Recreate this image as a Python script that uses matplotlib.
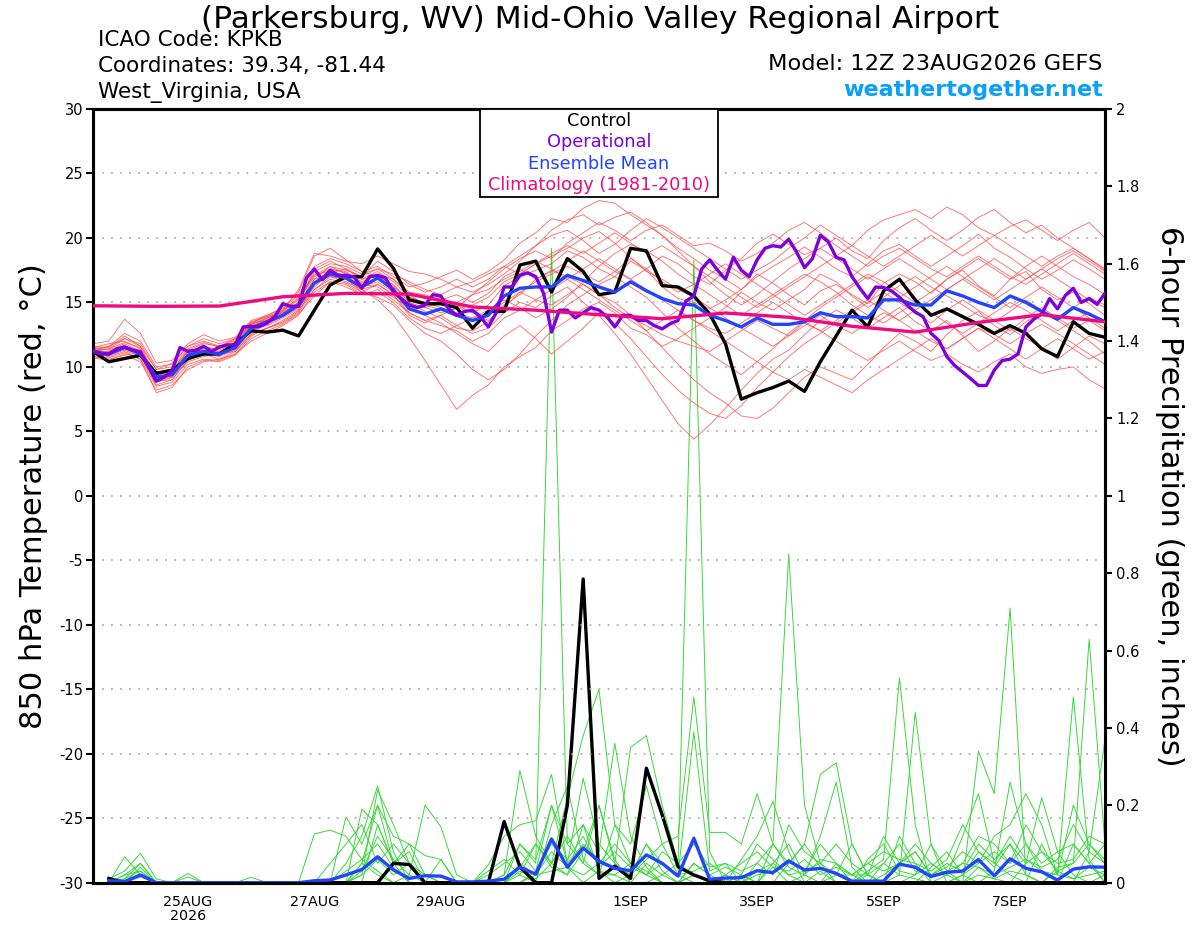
import numpy as np
import pandas as pd
import matplotlib
matplotlib.use("Agg")
import matplotlib.pyplot as plt
from matplotlib.patches import Rectangle

plt.rcParams["font.family"] = ["DejaVu Sans"]
plt.rcParams["axes.unicode_minus"] = False

# ── colours ────────────────────────────────────────────────────────────────────
RED    = "#ff4a4a"
GREEN  = "#3ad83a"
BLACK  = "#000000"
PURPLE = "#7f00dd"
BLUE   = "#2244ff"
PINK   = "#ee0a80"
SITE   = "#0aa0f5"
GRID   = "#b0b0b0"

# ── time axes (GEFS 12Z 23AUG2026) ────────────────────────────────────────────
RUN_START = "2026-08-23 12:00"
times6  = pd.date_range(RUN_START, periods=65, freq="6h")     # ensemble / control
times3  = pd.date_range(RUN_START, periods=129, freq="3h")    # operational
times24 = pd.date_range(RUN_START, periods=17, freq="24h")    # climatology
ptimes  = times6[1:]                                          # 6-hr precip totals

tick_dates  = ["2026-08-25", "2026-08-27", "2026-08-29", "2026-09-01",
               "2026-09-03", "2026-09-05", "2026-09-07"]
tick_labels = ["25AUG\n2026", "27AUG", "29AUG", "1SEP", "3SEP", "5SEP", "7SEP"]

# ── 850 hPa temperature (°C) ──────────────────────────────────────────────────
control_t = [11.2, 10.4, 10.65, 10.9, 9.5, 9.75, 10.65, 11.0, 11.0, 11.8, 12.8, 12.7, 12.85,
             12.4, 14.4, 16.35, 17.0, 17.0, 19.15, 17.65, 15.2, 14.9, 14.9, 14.6, 13.0, 14.3,
             14.3, 17.9, 18.2, 15.8, 18.4, 17.4, 15.6, 15.8, 19.2, 19.0, 16.3, 16.2, 15.5,
             14.1, 11.8, 7.5, 8.0, 8.4, 8.9, 8.1, 10.4, 12.4, 14.4, 13.1, 15.9, 16.8,
             15.2, 14.0, 14.5, 13.9, 13.3, 12.6, 13.2, 12.6, 11.4, 10.8, 13.5, 12.6, 12.3]

ens_mean_t = [11.2, 11.0, 11.5, 11.0, 9.2, 9.4, 10.9, 11.2, 11.0, 11.5, 13.0, 13.5, 14.0,
              14.8, 16.5, 17.2, 16.9, 16.2, 16.9, 16.0, 14.5, 14.1, 14.5, 14.0, 13.6, 14.0,
              15.5, 16.1, 16.2, 16.2, 17.1, 16.7, 16.2, 15.8, 16.6, 15.9, 15.3, 14.9, 14.8,
              14.0, 13.6, 13.1, 13.8, 13.3, 13.3, 13.5, 14.2, 13.9, 13.9, 13.8, 15.2, 15.2,
              14.8, 14.8, 15.9, 15.5, 15.0, 14.6, 15.5, 15.0, 14.3, 13.7, 14.6, 14.1, 13.5]

oper_t = [11.24, 11.0, 11.0, 11.4, 11.55, 11.3, 11.17, 10.0, 8.9, 9.2, 9.7, 11.5, 11.2, 11.3,
          11.6, 11.2, 11.55, 11.7, 11.7, 13.1, 13.15, 13.1, 13.4, 13.9, 14.9, 14.7, 14.7, 16.9,
          17.6, 16.75, 17.5, 17.1, 17.1, 17.0, 16.1, 17.0, 17.1, 16.9, 15.8, 15.3, 14.8, 14.6,
          14.8, 15.6, 15.5, 14.5, 14.0, 14.3, 14.4, 13.9, 13.1, 14.2, 16.2, 16.2, 17.1, 17.3,
          17.0, 15.7, 12.7, 14.4, 14.4, 13.8, 14.2, 14.6, 14.4, 13.9, 13.1, 14.0, 14.0, 13.6,
          13.6, 13.2, 12.95, 13.35, 13.6, 15.1, 15.5, 17.6, 18.3, 17.5, 16.8, 18.5, 17.5, 17.0,
          18.3, 19.2, 19.4, 19.3, 19.9, 18.9, 17.7, 18.4, 20.2, 19.7, 18.5, 18.3, 17.0, 16.1,
          15.3, 16.2, 16.15, 15.9, 15.4, 14.8, 14.25, 13.9, 12.6, 12.05, 10.8, 10.1, 9.6, 9.1,
          8.56, 8.56, 9.75, 10.5, 10.6, 11.0, 13.1, 13.7, 14.1, 15.3, 14.5, 15.55, 16.1, 15.0,
          15.3, 14.85, 15.7]

climo_t = [14.74, 14.7, 14.72, 15.44, 15.7, 15.65, 14.65, 14.4, 14.05,
           13.74, 14.18, 13.85, 13.15, 12.7, 13.45, 14.05, 13.5]

# ensemble members, 6-hourly
t_mem01 = [11.5, 11.3, 11.8, 11.2, 9.6, 9.8, 11.2, 11.6, 11.3, 11.8, 13.3, 13.8, 14.3,
           15.2, 17.0, 17.6, 17.3, 16.6, 17.2, 16.3, 15.0, 14.6, 15.0, 14.6, 14.2, 14.8,
           16.3, 17.0, 17.5, 18.0, 19.0, 18.5, 17.6, 17.0, 18.2, 17.5, 16.2, 15.3, 15.0,
           14.5, 15.2, 16.0, 17.2, 16.5, 15.6, 14.8, 15.9, 16.4, 15.6, 14.9, 16.5, 17.2,
           16.6, 15.7, 16.8, 17.5, 16.3, 15.5, 16.8, 17.4, 16.0, 15.2, 15.8, 14.9, 14.0]
t_mem02 = [11.0, 10.8, 11.2, 10.6, 8.5, 8.8, 10.2, 10.6, 10.5, 11.0, 12.4, 13.0, 13.4,
           14.2, 16.0, 17.0, 16.8, 16.0, 15.2, 14.0, 12.3, 10.5, 8.6, 6.7, 7.8, 8.6,
           10.0, 10.8, 11.5, 12.8, 13.6, 14.5, 15.0, 14.2, 13.0, 12.5, 11.6, 12.2, 13.0,
           13.8, 14.6, 15.8, 15.0, 14.4, 15.2, 16.0, 17.2, 16.6, 15.5, 14.6, 15.4, 16.3,
           17.0, 16.2, 15.5, 14.8, 14.0, 13.5, 14.3, 15.2, 14.4, 13.6, 14.6, 15.4, 14.8]
t_mem03 = [11.8, 12.0, 13.7, 12.6, 10.3, 10.5, 11.8, 12.5, 12.0, 12.3, 13.6, 14.0, 14.6,
           15.8, 18.6, 19.2, 18.3, 17.4, 17.8, 17.0, 16.2, 16.5, 17.0, 17.5, 16.8, 17.4,
           18.3, 19.6, 20.4, 21.5, 21.2, 22.3, 22.9, 22.7, 21.8, 21.0, 20.2, 19.2, 18.4,
           17.5, 16.8, 16.0, 17.0, 17.8, 18.5, 19.3, 18.5, 17.6, 17.0, 18.0, 19.0, 19.5,
           18.6, 17.8, 18.6, 19.4, 20.3, 19.2, 18.5, 17.6, 16.8, 17.5, 18.3, 17.6, 16.8]
t_mem04 = [10.8, 10.6, 10.9, 10.4, 8.2, 8.6, 9.8, 10.4, 10.6, 11.0, 12.0, 12.6, 13.2,
           14.0, 15.8, 16.6, 16.2, 15.6, 16.0, 15.2, 14.2, 13.6, 14.0, 13.2, 12.6, 13.0,
           14.2, 15.0, 14.6, 15.5, 16.2, 15.0, 14.0, 12.6, 11.0, 9.2, 7.4, 5.6, 4.4,
           5.5, 6.8, 8.2, 9.5, 10.6, 11.3, 12.5, 13.6, 14.4, 13.8, 13.0, 13.8, 14.6,
           13.5, 12.8, 13.6, 12.4, 11.2, 12.0, 13.0, 12.2, 11.5, 10.6, 11.5, 12.4, 11.8]
t_mem05 = [11.2, 11.4, 11.9, 11.5, 9.0, 9.2, 10.8, 11.0, 10.8, 11.3, 12.8, 13.3, 13.9,
           14.6, 16.2, 17.3, 17.6, 16.8, 17.0, 16.4, 15.0, 14.3, 13.8, 13.0, 12.8, 13.5,
           14.8, 15.6, 16.8, 17.5, 17.0, 16.4, 15.6, 15.0, 14.0, 12.8, 11.5, 10.2, 9.0,
           8.0, 7.2, 6.2, 6.0, 6.8, 8.0, 9.2, 10.0, 9.5, 9.0, 10.2, 11.5, 12.6,
           12.0, 11.2, 12.5, 13.6, 14.3, 13.2, 12.5, 13.5, 14.2, 13.6, 12.8, 12.0, 11.0]
t_mem06 = [11.4, 11.6, 12.2, 11.8, 9.8, 10.0, 11.4, 11.9, 11.5, 12.0, 13.4, 13.6, 14.2,
           15.0, 17.4, 18.0, 17.8, 17.2, 17.6, 16.8, 15.8, 15.6, 15.2, 15.6, 15.0, 15.7,
           17.0, 17.6, 16.8, 17.4, 18.2, 19.0, 18.2, 17.4, 16.8, 17.6, 18.6, 18.0, 17.0,
           16.4, 17.5, 18.4, 19.6, 20.3, 19.5, 18.7, 19.2, 20.0, 19.0, 18.4, 19.8, 20.8,
           21.5, 20.6, 19.8, 20.6, 21.6, 22.2, 21.2, 20.4, 21.0, 20.0, 19.2, 18.4, 17.5]
t_mem07 = [11.0, 11.2, 11.6, 11.0, 9.4, 9.6, 11.0, 11.4, 11.2, 11.6, 13.0, 13.4, 14.0,
           14.8, 16.8, 17.8, 17.5, 17.0, 18.2, 17.4, 16.4, 15.8, 16.2, 16.8, 16.2, 16.8,
           17.8, 18.6, 19.4, 20.2, 20.6, 19.8, 18.8, 19.5, 20.6, 21.5, 20.8, 20.0, 19.2,
           18.4, 17.6, 16.8, 17.5, 18.2, 19.2, 20.0, 21.0, 20.2, 19.4, 20.6, 21.4, 21.8,
           22.2, 21.5, 22.4, 21.8, 20.8, 20.2, 20.9, 21.4, 20.6, 19.8, 20.6, 21.2, 20.0]
t_mem08 = [10.7, 10.5, 11.0, 10.8, 8.8, 9.2, 10.4, 10.8, 11.0, 11.2, 12.5, 13.0, 13.6,
           14.4, 16.0, 16.8, 16.5, 15.8, 16.4, 15.6, 14.2, 13.6, 13.2, 12.8, 12.0, 12.6,
           13.8, 14.4, 15.2, 14.8, 15.6, 16.4, 15.6, 14.6, 13.8, 13.2, 12.5, 12.0, 11.6,
           11.2, 12.0, 12.8, 13.6, 13.0, 12.4, 13.2, 14.0, 13.2, 12.6, 13.4, 14.2, 13.6,
           12.8, 12.0, 11.4, 12.2, 13.0, 12.5, 11.8, 12.6, 13.3, 12.6, 11.8, 11.0, 10.2]
t_mem09 = [11.6, 11.5, 12.4, 11.6, 9.2, 9.5, 11.0, 11.2, 10.9, 11.4, 12.8, 13.5, 14.0,
           14.9, 16.6, 17.5, 17.0, 16.2, 16.6, 15.8, 14.8, 14.6, 14.2, 14.5, 14.8, 15.4,
           16.6, 17.2, 18.0, 18.6, 19.2, 20.0, 20.5, 19.6, 18.5, 17.4, 16.8, 16.0, 15.4,
           14.6, 13.8, 13.0, 12.3, 11.6, 12.4, 13.5, 12.8, 12.0, 11.2, 10.5, 11.3, 12.0,
           11.2, 10.5, 11.0, 10.2, 9.6, 10.4, 11.0, 10.0, 9.5, 9.8, 10.0, 9.0, 8.3]
t_mem10 = [11.3, 11.0, 11.4, 11.2, 9.6, 9.6, 11.2, 11.3, 11.2, 11.8, 13.2, 13.6, 14.3,
           15.4, 17.2, 17.4, 17.1, 16.8, 17.4, 16.6, 15.4, 15.0, 14.6, 14.2, 13.8, 14.4,
           15.2, 14.6, 13.8, 14.5, 15.4, 16.6, 17.8, 18.8, 19.5, 19.0, 18.2, 17.2, 16.4,
           15.6, 14.8, 14.0, 14.8, 15.6, 14.8, 14.0, 14.8, 15.6, 16.4, 17.2, 16.6, 15.8,
           15.0, 15.8, 16.8, 17.6, 18.4, 17.6, 16.8, 17.8, 18.6, 17.8, 17.0, 16.4, 15.6]
t_mem11 = [10.9, 11.2, 11.7, 10.9, 8.6, 9.0, 10.6, 11.0, 10.6, 11.2, 12.6, 13.0, 13.5,
           14.3, 16.4, 17.6, 17.4, 16.4, 16.2, 15.4, 14.6, 14.0, 13.4, 12.6, 11.8, 11.2,
           12.4, 13.2, 12.2, 11.0, 12.0, 13.0, 14.2, 13.4, 12.2, 10.8, 9.4, 8.2, 7.2,
           6.4, 6.0, 7.0, 8.4, 9.6, 10.8, 11.8, 12.6, 13.4, 14.2, 15.0, 15.8, 15.0,
           14.2, 13.4, 14.4, 15.2, 14.4, 13.6, 12.8, 13.8, 14.6, 13.8, 13.0, 13.6, 12.8]
t_mem12 = [11.1, 10.9, 11.3, 10.8, 9.0, 9.3, 10.6, 11.1, 11.0, 11.6, 13.1, 13.8, 14.1,
           15.0, 16.8, 17.0, 16.6, 16.0, 16.4, 15.6, 14.0, 13.4, 14.0, 14.6, 15.6, 16.6,
           17.6, 18.4, 19.0, 18.4, 19.6, 20.4, 21.2, 20.6, 19.8, 20.6, 21.0, 20.2, 19.4,
           19.6, 19.0, 18.2, 18.8, 19.6, 20.6, 21.2, 20.4, 19.4, 18.6, 17.8, 18.6, 19.2,
           18.4, 17.6, 17.0, 17.8, 18.6, 17.8, 17.0, 16.4, 17.2, 18.0, 18.8, 18.0, 17.2]
t_mem13 = [11.5, 11.8, 12.0, 11.4, 9.4, 9.2, 10.8, 11.5, 11.4, 11.9, 13.4, 14.0, 14.5,
           15.6, 17.8, 18.4, 18.0, 17.4, 17.0, 16.2, 15.4, 15.0, 15.4, 14.8, 14.2, 13.6,
           14.6, 15.8, 16.6, 17.2, 17.8, 17.2, 16.6, 17.4, 18.4, 17.6, 16.6, 15.8, 16.4,
           17.2, 18.0, 17.2, 16.4, 15.6, 16.4, 17.2, 16.6, 15.8, 14.8, 14.0, 13.4, 14.2,
           15.0, 14.2, 13.4, 12.6, 13.4, 14.2, 15.0, 14.4, 13.6, 12.8, 13.6, 14.2, 13.4]
t_mem14 = [10.8, 10.7, 11.1, 10.6, 8.0, 8.4, 10.0, 10.5, 10.4, 10.9, 12.2, 12.8, 13.3,
           14.1, 15.5, 16.6, 16.4, 15.6, 15.8, 15.0, 13.8, 13.0, 12.6, 13.2, 13.8, 14.2,
           15.0, 15.8, 15.2, 16.0, 16.8, 16.0, 15.2, 14.4, 13.6, 12.8, 13.6, 14.4, 13.6,
           12.8, 12.0, 11.2, 10.4, 9.6, 9.0, 9.8, 9.2, 8.6, 8.0, 9.0, 9.8, 10.6,
           11.4, 12.2, 11.4, 12.2, 13.0, 12.2, 11.4, 10.6, 11.4, 12.2, 11.4, 10.6, 11.2]
t_mem15 = [11.2, 11.6, 12.6, 12.0, 10.0, 10.2, 11.6, 12.2, 11.8, 12.2, 13.5, 13.9, 14.4,
           16.0, 18.8, 18.6, 18.2, 18.0, 18.6, 18.0, 17.4, 17.2, 16.8, 16.2, 16.6, 17.2,
           17.8, 17.2, 18.0, 18.8, 19.4, 18.8, 19.6, 20.4, 19.6, 18.8, 19.4, 18.6, 17.8,
           17.0, 16.2, 15.4, 14.6, 15.4, 16.2, 17.0, 17.8, 18.6, 19.4, 18.6, 17.8, 18.6,
           19.4, 20.2, 19.4, 18.6, 19.4, 20.2, 19.4, 18.6, 17.8, 18.6, 19.2, 18.4, 17.6]
t_mem16 = [11.0, 10.9, 11.6, 11.3, 9.3, 9.7, 11.3, 11.8, 11.6, 12.1, 13.3, 13.7, 14.4,
           15.3, 17.1, 17.8, 17.2, 16.5, 17.2, 16.8, 15.6, 14.8, 14.4, 15.0, 15.6, 16.0,
           16.8, 17.4, 18.2, 17.6, 16.8, 17.6, 18.4, 17.6, 16.8, 16.0, 15.2, 14.4, 13.6,
           13.0, 12.6, 13.4, 14.2, 15.0, 14.2, 13.4, 12.8, 13.6, 14.4, 15.2, 14.4, 13.6,
           14.4, 15.2, 16.0, 16.8, 16.0, 15.2, 16.0, 16.8, 17.6, 16.8, 16.0, 15.2, 14.6]
t_mem17 = [11.4, 11.1, 11.5, 11.0, 8.9, 9.0, 10.5, 11.0, 11.1, 11.7, 13.0, 13.2, 13.8,
           14.5, 16.4, 17.2, 16.8, 15.8, 15.4, 14.8, 13.6, 12.6, 12.0, 11.0, 9.8, 9.0,
           9.8, 11.0, 12.4, 13.6, 14.8, 15.6, 16.4, 17.0, 16.2, 15.4, 14.2, 13.0, 12.0,
           11.0, 10.2, 9.4, 10.4, 11.4, 12.6, 13.6, 14.6, 15.4, 16.2, 17.0, 16.2, 15.4,
           16.2, 17.0, 17.8, 17.0, 16.2, 15.4, 14.6, 15.4, 16.2, 15.4, 14.6, 13.8, 13.0]
t_mem18 = [11.3, 11.4, 12.2, 11.6, 9.8, 10.3, 11.6, 12.0, 11.6, 12.2, 13.4, 13.9, 14.2,
           15.0, 17.6, 18.2, 17.6, 17.0, 17.6, 17.2, 16.6, 16.0, 15.6, 16.2, 15.8, 16.4,
           17.2, 18.2, 19.4, 20.6, 21.4, 21.8, 21.0, 21.6, 22.0, 21.2, 20.2, 19.0, 17.8,
           16.6, 15.6, 14.8, 15.6, 16.6, 17.6, 18.4, 19.2, 18.4, 17.6, 16.8, 17.6, 18.4,
           17.6, 16.8, 16.0, 16.8, 17.6, 18.4, 17.6, 16.8, 17.6, 18.4, 19.0, 18.2, 17.4]

# ── 6-hour precipitation (inches), valid 18Z 23AUG onwards ────────────────────
control_p = [0.011, 0, 0, 0, 0, 0, 0, 0, 0, 0, 0, 0,
             0, 0, 0, 0, 0, 0, 0.05, 0.047, 0, 0, 0, 0, 0,
             0.158, 0.041, 0, 0, 0.2, 0.785, 0.011, 0.043, 0.011, 0.296, 0.175, 0.041, 0.02,
             0.005, 0, 0, 0, 0, 0, 0, 0, 0, 0, 0, 0, 0,
             0, 0, 0, 0, 0, 0, 0, 0, 0, 0, 0, 0, 0]

ens_mean_p = [0.005, 0.003, 0.02, 0, 0, 0, 0, 0, 0, 0, 0, 0,
              0, 0.005, 0.007, 0.02, 0.034, 0.067, 0.033, 0.011, 0.018, 0.017, 0.002, 0.002, 0.004,
              0.009, 0.04, 0.022, 0.113, 0.04, 0.09, 0.055, 0.037, 0.031, 0.072, 0.05, 0.017, 0.115,
              0.009, 0.012, 0.013, 0.031, 0.026, 0.056, 0.033, 0.037, 0.024, 0.004, 0.004, 0.004, 0.048,
              0.04, 0.016, 0.027, 0.03, 0.06, 0.018, 0.062, 0.037, 0.028, 0.007, 0.035, 0.041, 0.04]

p_mem01 = [0, 0.067, 0.02, 0, 0, 0, 0, 0, 0, 0, 0, 0,
           0, 0, 0, 0.05, 0.12, 0.25, 0.08, 0, 0, 0, 0, 0, 0,
           0, 0.1, 0.05, 1.64, 0.1, 0.05, 0.2, 0.06, 0, 0.05, 0.02, 0, 0.05,
           0.02, 0, 0, 0.03, 0.05, 0.1, 0.02, 0, 0.05, 0, 0, 0, 0.12,
           0.05, 0, 0, 0.02, 0.08, 0.04, 0.1, 0.02, 0, 0, 0.1, 0.05, 0]
p_mem02 = [0.01, 0.03, 0.076, 0.01, 0, 0.024, 0, 0, 0, 0, 0, 0,
           0, 0, 0, 0, 0.02, 0.24, 0.15, 0.05, 0, 0, 0, 0, 0,
           0.02, 0.29, 0.12, 0.05, 0.22, 0.38, 0.5, 0.15, 0.05, 0.02, 0, 0, 0.02,
           0, 0, 0.06, 0.12, 0.21, 0.08, 0, 0, 0.02, 0.1, 0.02, 0, 0,
           0, 0.04, 0.08, 0.02, 0, 0.03, 0.26, 0.1, 0.03, 0, 0, 0.08, 0.37]
p_mem03 = [0, 0.02, 0.05, 0, 0, 0.015, 0, 0, 0, 0.014, 0, 0,
           0, 0.126, 0.136, 0.12, 0.06, 0.03, 0, 0.02, 0.2, 0.145, 0.02, 0, 0,
           0, 0, 0.03, 0.2, 0.1, 0.15, 0.08, 0.36, 0.12, 0.04, 0, 0, 0,
           0, 0.02, 0, 0, 0.1, 0.85, 0.2, 0.05, 0, 0, 0.03, 0.06, 0.53,
           0.15, 0, 0, 0, 0.04, 0.01, 0, 0.05, 0.22, 0.08, 0.02, 0, 0.02]
p_mem04 = [0, 0, 0.04, 0, 0, 0, 0, 0, 0, 0, 0, 0,
           0, 0, 0, 0.17, 0.1, 0.2, 0.12, 0.1, 0.07, 0.06, 0, 0, 0.046,
           0.12, 0.15, 0.16, 0.28, 0.05, 0.27, 0.1, 0.05, 0.35, 0.38, 0.2, 0.05, 1.61,
           0.08, 0, 0.02, 0, 0, 0.05, 0.1, 0.28, 0.31, 0.1, 0.02, 0, 0,
           0.02, 0.1, 0.03, 0, 0.34, 0.23, 0.71, 0.02, 0, 0.04, 0.05, 0.63, 0.1]
p_mem05 = [0, 0.01, 0.03, 0, 0, 0, 0, 0, 0, 0, 0, 0,
           0, 0, 0, 0, 0.19, 0.15, 0.05, 0.08, 0, 0, 0, 0, 0,
           0, 0.02, 0, 0.15, 0.25, 0.06, 0.02, 0.15, 0.1, 0.25, 0.1, 0.12, 0.48,
           0.13, 0.13, 0.1, 0.23, 0.1, 0.04, 0.02, 0.12, 0.26, 0.04, 0, 0.05, 0.02,
           0.44, 0.1, 0, 0.02, 0.05, 0.12, 0.15, 0.23, 0.15, 0.02, 0.48, 0.06, 0]
p_mem06 = [0, 0, 0.015, 0, 0, 0, 0, 0, 0, 0, 0, 0,
           0, 0, 0, 0, 0.05, 0.2, 0.05, 0.1, 0.02, 0, 0, 0, 0.03,
           0.06, 0.02, 0.1, 0.05, 0.02, 0.15, 0.03, 0, 0.02, 0.1, 0.05, 0.02, 0.39,
           0.03, 0.05, 0, 0.05, 0.02, 0.15, 0.08, 0.05, 0.02, 0, 0.06, 0.1, 0.03,
           0.02, 0.05, 0.02, 0.12, 0.23, 0.05, 0.02, 0, 0.1, 0.02, 0.2, 0.1, 0.05]
p_mem07 = [0, 0, 0, 0, 0, 0, 0, 0, 0, 0, 0, 0,
           0, 0, 0, 0.03, 0.06, 0.1, 0.04, 0, 0, 0, 0, 0, 0,
           0, 0.05, 0.02, 0.08, 0.04, 0, 0.03, 0.02, 0.05, 0.03, 0, 0, 0.02,
           0, 0, 0.02, 0, 0.05, 0.02, 0, 0.03, 0, 0, 0.02, 0, 0.02,
           0.01, 0, 0.02, 0, 0.02, 0.01, 0.03, 0.02, 0, 0.03, 0.01, 0.02, 0.03]
p_mem08 = [0, 0, 0.02, 0, 0, 0, 0, 0, 0, 0, 0, 0,
           0, 0, 0, 0, 0.02, 0.06, 0.02, 0.05, 0, 0, 0, 0, 0,
           0.02, 0.1, 0.06, 0.2, 0.05, 0.1, 0.06, 0.04, 0.02, 0.06, 0.1, 0.02, 0.03,
           0.05, 0.02, 0, 0.02, 0.03, 0.06, 0.03, 0.1, 0.05, 0.02, 0.05, 0.03, 0.05,
           0.08, 0.02, 0.05, 0.03, 0.1, 0.06, 0.1, 0.05, 0.08, 0.03, 0.05, 0.1, 0.06]
p_mem09 = [0, 0, 0, 0, 0, 0, 0, 0, 0, 0, 0, 0,
           0, 0, 0, 0, 0, 0.15, 0.05, 0, 0, 0.06, 0, 0, 0,
           0, 0.03, 0.01, 0.05, 0.12, 0.05, 0.02, 0.02, 0, 0, 0.02, 0.05, 0.1,
           0.04, 0.05, 0.03, 0.05, 0.1, 0.05, 0.1, 0.04, 0.02, 0.02, 0, 0.02, 0.05,
           0.1, 0.05, 0.02, 0.05, 0.12, 0.1, 0.05, 0.1, 0.05, 0.08, 0.1, 0.05, 0.1]
p_mem10 = [0, 0.02, 0.03, 0, 0, 0, 0, 0, 0, 0, 0, 0,
           0, 0, 0, 0, 0.05, 0.02, 0, 0, 0, 0, 0, 0, 0,
           0, 0, 0.02, 0.03, 0.04, 0.02, 0.05, 0.1, 0.05, 0.02, 0.05, 0.02, 0,
           0, 0, 0, 0, 0.04, 0, 0.02, 0.06, 0.05, 0.02, 0.02, 0.05, 0.1,
           0.03, 0.02, 0.03, 0.05, 0.04, 0.02, 0.04, 0.06, 0.03, 0.02, 0.01, 0.04, 0.02]
p_mem11 = [0, 0, 0.02, 0, 0, 0, 0, 0, 0, 0, 0, 0,
           0, 0, 0.05, 0.1, 0.15, 0.05, 0.1, 0.05, 0.02, 0, 0, 0, 0.02,
           0.05, 0.08, 0.03, 0.1, 0.06, 0.12, 0.04, 0.08, 0.04, 0.02, 0.08, 0.05, 0.02,
           0, 0.02, 0.05, 0.08, 0.04, 0.03, 0.06, 0.02, 0.04, 0.02, 0.05, 0.08, 0.06,
           0.05, 0.03, 0.06, 0.15, 0.08, 0.05, 0.12, 0.06, 0.04, 0.06, 0.15, 0.08, 0.05]
p_mem12 = [0, 0.01, 0.05, 0, 0, 0, 0, 0, 0, 0, 0, 0,
           0, 0, 0, 0, 0.03, 0.12, 0.06, 0.02, 0, 0, 0, 0, 0,
           0, 0.04, 0.1, 0.04, 0.02, 0.08, 0.2, 0.05, 0.02, 0.1, 0.03, 0, 0.05,
           0.02, 0.04, 0.02, 0.1, 0.06, 0.02, 0.03, 0.05, 0.1, 0.05, 0.02, 0.12, 0.05,
           0.08, 0.02, 0.04, 0.08, 0.05, 0.08, 0.05, 0.15, 0.08, 0.05, 0.06, 0.12, 0.1]

temp_members = [t_mem01, t_mem02, t_mem03, t_mem04, t_mem05, t_mem06, t_mem07, t_mem08, t_mem09,
                t_mem10, t_mem11, t_mem12, t_mem13, t_mem14, t_mem15, t_mem16, t_mem17, t_mem18]
precip_members = [p_mem01, p_mem02, p_mem03, p_mem04, p_mem05, p_mem06,
                  p_mem07, p_mem08, p_mem09, p_mem10, p_mem11, p_mem12]

# ── figure ────────────────────────────────────────────────────────────────────
fig = plt.figure(figsize=(12, 9.27), dpi=100, facecolor="white")
ax = fig.add_axes([0.0775, 0.0478, 0.8433, 0.8346])
axp = ax.twinx()
# temperature axis drawn above the precip axis
ax.set_zorder(axp.get_zorder() + 1)
ax.patch.set_visible(False)

for p in precip_members:
    axp.plot(ptimes, p, color=GREEN, lw=0.7, zorder=1)
axp.plot(ptimes, control_p, color=BLACK, lw=2.4, zorder=3)
axp.plot(ptimes, ens_mean_p, color=BLUE, lw=2.4, zorder=4)

for t in temp_members:
    ax.plot(times6, t, color=RED, lw=0.6, alpha=0.85, zorder=1)
ax.plot(times6, control_t, color=BLACK, lw=2.4, zorder=3)
ax.plot(times6, ens_mean_t, color=BLUE, lw=2.4, zorder=4)
ax.plot(times3, oper_t, color=PURPLE, lw=2.4, zorder=5)
ax.plot(times24, climo_t, color=PINK, lw=2.4, zorder=6)

# axes ranges / ticks
ax.set_xlim(times6[0], times6[-1])
ax.set_ylim(-30, 30)
ax.set_yticks(np.arange(-30, 31, 5))
axp.set_ylim(0, 2)
axp.set_yticks(np.arange(0, 2.01, 0.2))
axp.set_yticklabels([f"{v:g}" for v in np.round(np.arange(0, 2.01, 0.2), 1)])

ax.set_xticks(pd.to_datetime(tick_dates))
ax.set_xticklabels(tick_labels, fontsize=10.3, linespacing=1.0)
ax.tick_params(axis="x", length=0, pad=9)
ax.tick_params(axis="y", direction="out", length=5, width=1.5, labelsize=10.5, pad=2)
axp.tick_params(axis="y", direction="out", length=5, width=1.5, labelsize=10.5, pad=3)

for gy in range(-25, 30, 5):
    ax.axhline(gy, color=GRID, lw=1.3, ls=(0, (1, 4)), zorder=0)

for a in (ax, axp):
    for s in a.spines.values():
        s.set_linewidth(2.2)

ax.set_ylabel("850 hPa Temperature (red, °C)", fontsize=22, labelpad=8)
axp.set_ylabel("6-hour Precipitation (green, inches)", fontsize=22,
               rotation=-90, labelpad=32)

# legend box
ax.add_patch(Rectangle((0.382, 0.886), 0.236, 0.114, transform=ax.transAxes,
                       facecolor="white", edgecolor="black", lw=1.3, zorder=10))
legend_items = [("Control", BLACK), ("Operational", PURPLE),
                ("Ensemble Mean", BLUE), ("Climatology (1981-2010)", PINK)]
for k, (txt, col) in enumerate(legend_items):
    ax.text(0.5, 0.9845 - k * 0.0275, txt, color=col, fontsize=12.8,
            ha="center", va="center", transform=ax.transAxes, zorder=11)

# header texts
fig.text(0.5, 0.979, "(Parkersburg, WV) Mid-Ohio Valley Regional Airport",
         fontsize=22.5, ha="center", va="center")
fig.text(0.082, 0.957, "ICAO Code: KPKB", fontsize=15.5, ha="left", va="center")
fig.text(0.082, 0.929, "Coordinates: 39.34, -81.44", fontsize=15.5, ha="left", va="center")
fig.text(0.082, 0.900, "West_Virginia, USA", fontsize=15.5, ha="left", va="center")
fig.text(0.919, 0.931, "Model: 12Z 23AUG2026 GEFS", fontsize=16.2, ha="right", va="center")
fig.text(0.919, 0.903, "weathertogether.net", fontsize=16, fontweight="bold",
         color=SITE, ha="right", va="center")

fig.savefig("out.png", dpi=100, facecolor="white")
plt.close(fig)
